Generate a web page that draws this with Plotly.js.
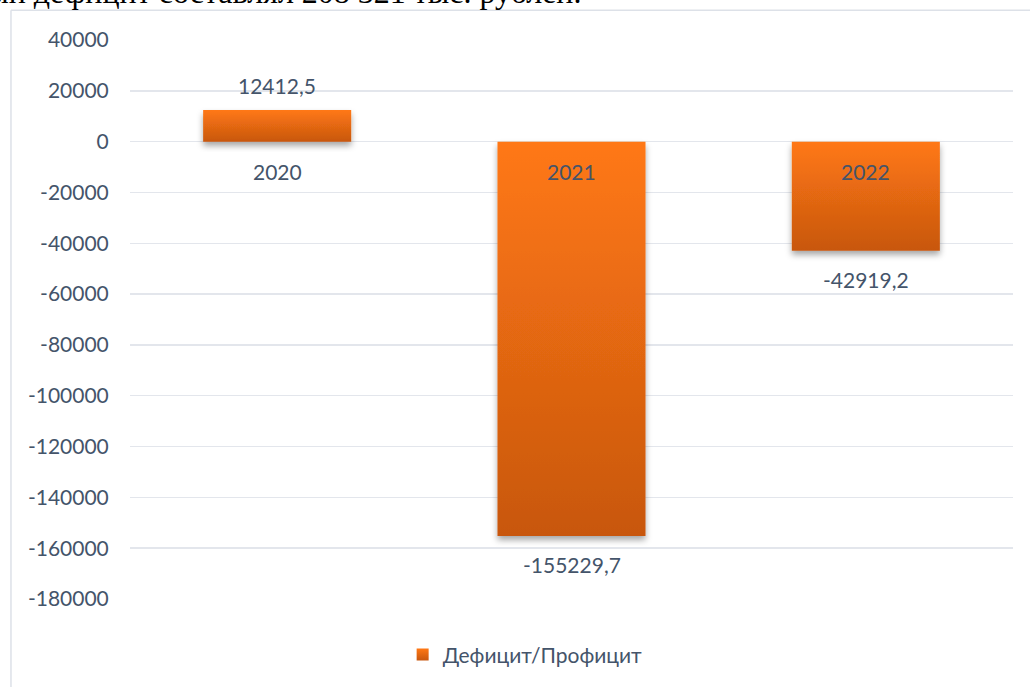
<!DOCTYPE html>
<html>
<head>
<meta charset="utf-8">
<script src="https://cdn.plot.ly/plotly-3.0.1.min.js"></script>
<style>
  html, body { margin: 0; padding: 0; background: #ffffff; }
  #chart { width: 1030px; height: 687px; }
</style>
</head>
<body>
<div id="chart"></div>
<script>
// ---- data ----
const years = ["2020", "2021", "2022"];
const balance = [12412.5, -155229.7, -42919.2];
const seriesName = "Дефицит/Профицит";
const yTickValues = [40000, 20000, 0, -20000, -40000, -60000, -80000, -100000, -120000, -140000, -160000, -180000];
const headerText = "ный дефицит составлял 208 321 тыс. рублей.";

// ---- styling ----
const labelColor = "#44546a";
const fontFamily = "Lato, 'Open Sans', sans-serif";
const fontSize = 21;

const fmt = v => String(v).replace(".", ",");

const trace = {
  type: "bar",
  x: years,
  y: balance,
  name: seriesName,
  marker: { color: "#e8691a" },
  hoverinfo: "skip",
  showlegend: true
};

const annotations = [];
years.forEach((yr, i) => {
  const v = balance[i];
  // value label outside bar end
  annotations.push({
    x: yr, y: v, xref: "x", yref: "y",
    text: fmt(v), showarrow: false,
    yanchor: v >= 0 ? "bottom" : "top",
    yshift: v >= 0 ? 10 : -14,
    font: { family: fontFamily, size: fontSize, color: labelColor }
  });
  // category label next to zero line
  annotations.push({
    x: yr, y: 0, xref: "x", yref: "y",
    text: yr, showarrow: false,
    yanchor: "top", yshift: -15,
    font: { family: fontFamily, size: fontSize, color: labelColor }
  });
});
// cut-off document line above the chart
annotations.push({
  xref: "paper", yref: "paper", x: 0.513, y: 1.05,
  xanchor: "right", yanchor: "bottom",
  text: headerText, showarrow: false,
  font: { family: "'Liberation Serif', 'Times New Roman', serif", size: 32, color: "#000000" }
});

const layout = {
  width: 1030, height: 687,
  margin: { l: 130, r: 17, t: 40, b: 85 },
  paper_bgcolor: "#ffffff",
  plot_bgcolor: "#ffffff",
  bargap: 0.497,
  showlegend: true,
  legend: {
    orientation: "h", x: 0.4475, xanchor: "center", y: -0.1, yanchor: "middle",
    font: { family: fontFamily, size: fontSize, color: labelColor },
    itemwidth: 30
  },
  xaxis: {
    showticklabels: false, showgrid: false, zeroline: false, showline: false,
    ticks: "", fixedrange: true
  },
  yaxis: {
    range: [-180000, 40000],
    tickmode: "array",
    tickvals: yTickValues,
    ticktext: yTickValues.map(v => String(v)),
    tickfont: { family: fontFamily, size: fontSize, color: labelColor },
    ticks: "outside", ticklen: 16, tickcolor: "rgba(0,0,0,0)",
    showgrid: true, gridcolor: "#e3e6ec", gridwidth: 1.5,
    zeroline: true, zerolinecolor: "#e3e6ec", zerolinewidth: 1.5,
    showline: false, fixedrange: true
  },
  annotations: annotations,
  shapes: [
    { type: "line", xref: "paper", yref: "paper", x0: -0.1348, x1: 1.1, y0: 1.0534, y1: 1.0534,
      line: { color: "#dde1e8", width: 1.5 } },
    { type: "line", xref: "paper", yref: "paper", x0: -0.1348, x1: -0.1348, y0: 1.0534, y1: -0.3,
      line: { color: "#dde1e8", width: 1.5 } }
  ]
};

const gd = document.getElementById("chart");

function decorate() {
  const svg = gd.querySelector(".main-svg");
  if (!svg) return;
  let defs = svg.querySelector("defs");
  if (!defs) {
    defs = document.createElementNS("http://www.w3.org/2000/svg", "defs");
    svg.insertBefore(defs, svg.firstChild);
  }
  if (!defs.querySelector("#barGrad")) {
    defs.insertAdjacentHTML("beforeend",
      '<linearGradient id="barGrad" x1="0" y1="0" x2="0" y2="1">' +
        '<stop offset="0" stop-color="#ff7814"/>' +
        '<stop offset="1" stop-color="#c8570f"/>' +
      '</linearGradient>' +
      '<filter id="barShadow" x="-20%" y="-20%" width="140%" height="150%">' +
        '<feDropShadow dx="0" dy="4" stdDeviation="3" flood-color="#000" flood-opacity="0.35"/>' +
      '</filter>');
  }
  gd.querySelectorAll(".barlayer .point path").forEach(p => {
    p.style.fill = "url(#barGrad)";
    p.setAttribute("filter", "url(#barShadow)");
  });
  gd.querySelectorAll(".legendpoints path").forEach(p => {
    p.style.fill = "url(#barGrad)";
  });
}

Plotly.newPlot(gd, [trace], layout, { staticPlot: true, displayModeBar: false }).then(() => {
  decorate();
  gd.on && gd.on("plotly_afterplot", decorate);
});
</script>
</body>
</html>
